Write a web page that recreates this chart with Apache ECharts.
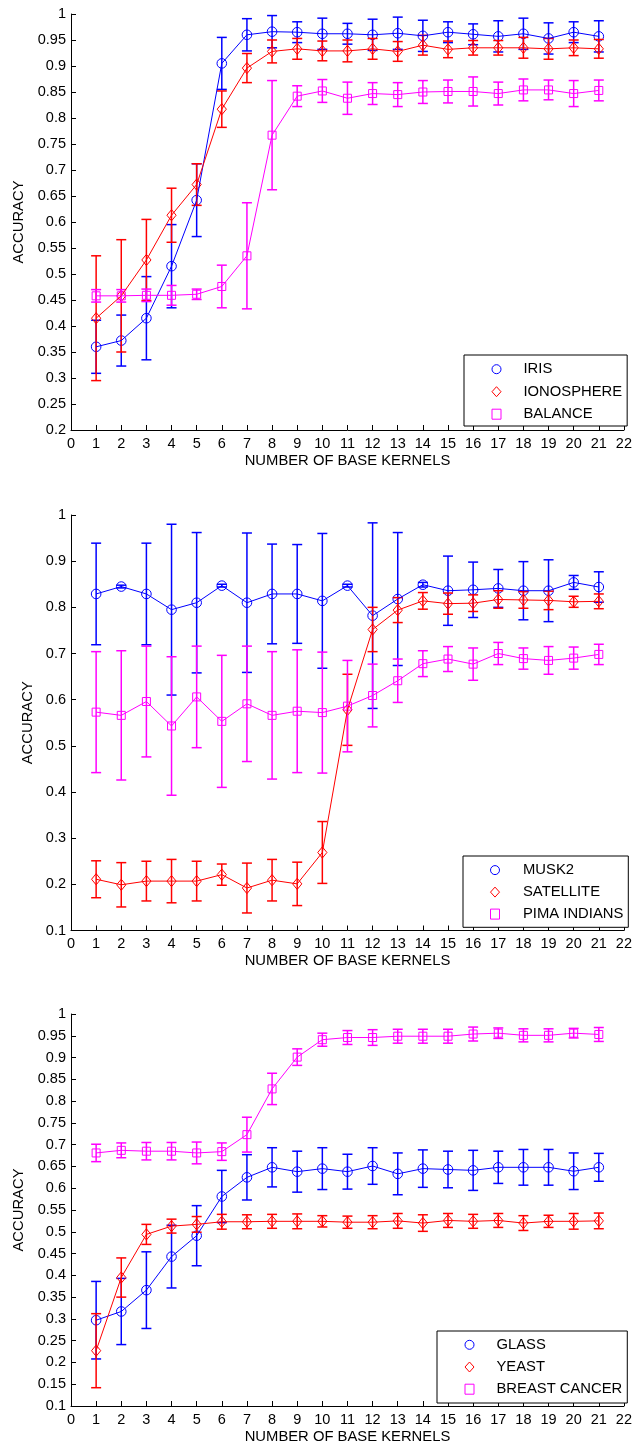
<!DOCTYPE html>
<html><head><meta charset="utf-8">
<script src="https://cdn.jsdelivr.net/npm/echarts@6/dist/echarts.min.js"></script>
<style>html,body{margin:0;padding:0;background:#fff}#c{width:635px;height:1445px}</style>
</head><body><div id="c"></div>
<script>
// ---------- data ----------
const kernels = [1,2,3,4,5,6,7,8,9,10,11,12,13,14,15,16,17,18,19,20,21];
const xTickMin = 0, xTickMax = 22;
const xTitle = 'NUMBER OF BASE KERNELS';
const yTitle = 'ACCURACY';

// Panel 1
const iris_mean = [0.360,0.372,0.415,0.515,0.642,0.905,0.960,0.966,0.965,0.962,0.962,0.960,0.963,0.958,0.965,0.961,0.957,0.962,0.953,0.965,0.957];
const iris_err  = [0.051,0.049,0.080,0.080,0.070,0.050,0.031,0.031,0.020,0.030,0.020,0.030,0.031,0.030,0.020,0.020,0.030,0.030,0.030,0.020,0.030];
const iono_mean = [0.415,0.458,0.527,0.613,0.672,0.817,0.896,0.928,0.933,0.929,0.929,0.933,0.928,0.940,0.932,0.935,0.935,0.935,0.933,0.935,0.933];
const iono_err  = [0.120,0.108,0.078,0.052,0.040,0.035,0.028,0.022,0.020,0.019,0.021,0.020,0.019,0.019,0.016,0.014,0.014,0.020,0.020,0.015,0.018];
const balance_mean = [0.458,0.458,0.459,0.459,0.461,0.476,0.535,0.767,0.842,0.852,0.838,0.847,0.845,0.850,0.851,0.851,0.847,0.854,0.854,0.847,0.853];
const balance_err  = [0.012,0.012,0.012,0.019,0.010,0.041,0.102,0.105,0.020,0.022,0.031,0.021,0.023,0.022,0.022,0.028,0.022,0.021,0.019,0.025,0.020];

// Panel 2
const musk2_mean = [0.829,0.845,0.829,0.795,0.810,0.847,0.810,0.829,0.829,0.814,0.847,0.782,0.818,0.849,0.836,0.838,0.841,0.836,0.836,0.854,0.844];
const musk2_err  = [0.110,0.003,0.110,0.185,0.152,0.003,0.151,0.108,0.107,0.146,0.003,0.201,0.144,0.005,0.075,0.060,0.041,0.063,0.067,0.015,0.033];
const satellite_mean = [0.211,0.199,0.207,0.207,0.207,0.221,0.192,0.209,0.201,0.269,0.578,0.752,0.794,0.814,0.808,0.809,0.817,0.816,0.815,0.812,0.813];
const satellite_err  = [0.040,0.048,0.043,0.047,0.043,0.023,0.054,0.045,0.047,0.067,0.077,0.048,0.027,0.018,0.023,0.018,0.019,0.018,0.020,0.012,0.016];
const pima_mean = [0.573,0.566,0.596,0.543,0.606,0.553,0.591,0.566,0.575,0.572,0.586,0.609,0.641,0.678,0.688,0.677,0.700,0.689,0.685,0.690,0.698];
const pima_err  = [0.131,0.140,0.120,0.150,0.110,0.143,0.125,0.138,0.133,0.131,0.099,0.068,0.047,0.028,0.027,0.035,0.024,0.023,0.030,0.024,0.022];

// Panel 3
const glass_mean = [0.297,0.317,0.366,0.443,0.491,0.581,0.625,0.648,0.638,0.645,0.638,0.651,0.633,0.645,0.643,0.641,0.648,0.648,0.648,0.639,0.648];
const glass_err  = [0.089,0.076,0.088,0.072,0.069,0.060,0.052,0.045,0.047,0.048,0.040,0.042,0.048,0.043,0.042,0.046,0.037,0.041,0.041,0.042,0.032];
const yeast_mean = [0.227,0.395,0.494,0.513,0.517,0.523,0.523,0.524,0.524,0.524,0.522,0.522,0.525,0.520,0.526,0.524,0.526,0.520,0.524,0.524,0.525];
const yeast_err  = [0.085,0.045,0.023,0.016,0.018,0.017,0.016,0.016,0.017,0.013,0.014,0.015,0.017,0.019,0.016,0.016,0.016,0.017,0.014,0.018,0.018];
const breast_mean = [0.681,0.687,0.685,0.685,0.681,0.684,0.723,0.828,0.901,0.941,0.946,0.946,0.949,0.949,0.949,0.954,0.956,0.951,0.951,0.956,0.953];
const breast_err  = [0.020,0.017,0.020,0.020,0.025,0.020,0.040,0.036,0.019,0.015,0.016,0.018,0.016,0.016,0.016,0.016,0.012,0.015,0.015,0.011,0.016];

// y axis ranges per panel
const yMin = [0.2, 0.1, 0.1];
const yMax = [1, 1, 1];
const yStep = [0.05, 0.1, 0.05];

// ---------- chart ----------
const FONT = '"Liberation Sans", Arial, Helvetica, sans-serif';
const BLUE = '#0000ff', RED = '#ff0000', MAG = '#ff00ff';

const sets = [
  {panel:0, name:'IRIS', mean:iris_mean, err:iris_err, color:BLUE, marker:'circle'},
  {panel:0, name:'IONOSPHERE', mean:iono_mean, err:iono_err, color:RED, marker:'diamond'},
  {panel:0, name:'BALANCE', mean:balance_mean, err:balance_err, color:MAG, marker:'square'},
  {panel:1, name:'MUSK2', mean:musk2_mean, err:musk2_err, color:BLUE, marker:'circle'},
  {panel:1, name:'SATELLITE', mean:satellite_mean, err:satellite_err, color:RED, marker:'diamond'},
  {panel:1, name:'PIMA INDIANS', mean:pima_mean, err:pima_err, color:MAG, marker:'square'},
  {panel:2, name:'GLASS', mean:glass_mean, err:glass_err, color:BLUE, marker:'circle'},
  {panel:2, name:'YEAST', mean:yeast_mean, err:yeast_err, color:RED, marker:'diamond'},
  {panel:2, name:'BREAST CANCER', mean:breast_mean, err:breast_err, color:MAG, marker:'square'}
];

const grids = [
  {left:71, top:14, width:554, height:416},
  {left:71, top:515, width:554, height:415.5},
  {left:71, top:1014, width:554, height:392}
];
const yNameGap = [38, 31, 38];

// icon center / text start positions from the reference
const legendPos = [
  {left:464, top:355, iconCx:496, textX:523, padding:[6.7,5,4.3], gap:7.5},
  {left:463, top:856, iconCx:494.5, textX:522.5, padding:[6.6,5,5.7], gap:7},
  {left:437, top:1331, iconCx:469, textX:496, padding:[6.3,5,6.3], gap:7.2}
];
const ICON_W = 9;

const fmt = v => String(parseFloat(v.toFixed(3)));

const xAxes = grids.map((g, i) => ({
  type:'value', gridIndex:i, min:xTickMin, max:xTickMax, interval:1,
  axisLine:{show:true, onZero:false, lineStyle:{color:'#000', width:1}},
  axisTick:{show:true, inside:true, length:5, lineStyle:{color:'#000', width:1}},
  axisLabel:{show:true, color:'#000', fontSize:14.5, fontFamily:FONT, margin:6},
  splitLine:{show:false},
  name:xTitle, nameLocation:'middle', nameGap:23,
  nameTextStyle:{color:'#000', fontSize:14.8, fontFamily:FONT}
}));
const yAxes = grids.map((g, i) => ({
  type:'value', gridIndex:i, min:yMin[i], max:yMax[i], interval:yStep[i],
  axisLine:{show:true, onZero:false, lineStyle:{color:'#000', width:1}},
  axisTick:{show:true, inside:true, length:5, lineStyle:{color:'#000', width:1}},
  axisLabel:{show:true, color:'#000', fontSize:14.5, fontFamily:FONT, margin:5, formatter:fmt},
  splitLine:{show:false},
  name:yTitle, nameLocation:'middle', nameGap:yNameGap[i], nameRotate:90,
  nameTextStyle:{color:'#000', fontSize:14.8, fontFamily:FONT}
}));

function markerShape(type, cx, cy, color) {
  const style = {fill:'none', stroke:color, lineWidth:1};
  if (type === 'circle') return {type:'circle', shape:{cx, cy, r:4.8}, style};
  if (type === 'diamond') return {type:'polygon', shape:{points:[[cx,cy-5.6],[cx+4.6,cy],[cx,cy+5.6],[cx-4.6,cy]]}, style};
  return {type:'rect', shape:{x:cx-4, y:cy-4, width:8, height:8}, style};
}

const series = [];
sets.forEach(s => {
  const lineData = kernels.map((k, j) => [k, s.mean[j]]);
  const ebData = kernels.map((k, j) => [k, s.mean[j], s.err[j]]);
  series.push({
    type:'line', name:s.name, xAxisIndex:s.panel, yAxisIndex:s.panel,
    data:lineData, symbol:'none', showSymbol:false,
    lineStyle:{color:s.color, width:1}, itemStyle:{color:s.color},
    animation:false, silent:true
  });
  series.push({
    type:'custom', name:s.name + ' err', xAxisIndex:s.panel, yAxisIndex:s.panel,
    data:ebData, encode:{x:0, y:1}, clip:false, animation:false, silent:true,
    renderItem:(params, api) => {
      const x = api.value(0), m = api.value(1), e = api.value(2);
      const c = api.coord([x, m]);
      const t = api.coord([x, m + e]);
      const b = api.coord([x, m - e]);
      const w = 5;
      const ls = {stroke:s.color, lineWidth:1.5};
      return {type:'group', children:[
        {type:'line', shape:{x1:t[0], y1:t[1], x2:b[0], y2:b[1]}, style:ls},
        {type:'line', shape:{x1:t[0]-w, y1:t[1], x2:t[0]+w, y2:t[1]}, style:ls},
        {type:'line', shape:{x1:b[0]-w, y1:b[1], x2:b[0]+w, y2:b[1]}, style:ls},
        markerShape(s.marker, c[0], c[1], s.color)
      ]};
    }
  });
});

const legends = legendPos.map((lp, i) => {
  const padL = lp.iconCx - ICON_W / 2 - lp.left;
  const textPad = lp.textX - (lp.iconCx + ICON_W / 2 + 5);
  return {
    orient:'vertical', left:lp.left, top:lp.top, itemWidth:ICON_W, itemHeight:10,
    itemGap:lp.gap, padding:[lp.padding[0], lp.padding[1], lp.padding[2], padL],
    borderColor:'#000', borderWidth:1,
    backgroundColor:'#fff', selectedMode:false, align:'left',
    textStyle:{color:'#000', fontSize:14.8, lineHeight:14, fontFamily:FONT, padding:[0,0,0,textPad]},
    data: sets.filter(s => s.panel === i).map(s => ({
      name:s.name,
      icon: s.marker === 'square' ? 'rect' : s.marker,
      itemStyle:{color:'rgba(255,255,255,0)', borderColor:s.color, borderWidth:1}
    }))
  };
});

const chart = echarts.init(document.getElementById('c'), null, {renderer:'canvas'});
chart.setOption({
  backgroundColor:'#fff',
  animation:false,
  grid:grids,
  xAxis:xAxes,
  yAxis:yAxes,
  legend:legends,
  series:series
});
</script>
</body></html>
